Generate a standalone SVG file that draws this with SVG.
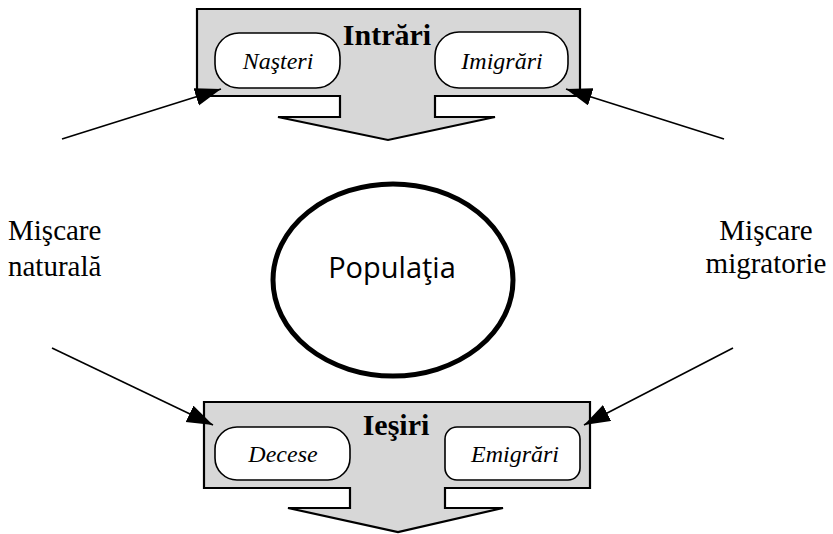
<svg xmlns="http://www.w3.org/2000/svg" width="833" height="534" viewBox="0 0 833 534">
<style>
.box{fill:#d7d7d7;stroke:#000;stroke-width:2.2;stroke-linejoin:miter}
.pill{fill:#fff;stroke:#000;stroke-width:1.6}
.title{font-family:"Liberation Serif",serif;font-weight:bold;font-size:30px;text-anchor:middle;fill:#000}
.item{font-family:"Liberation Serif",serif;font-style:italic;font-size:24px;text-anchor:middle;fill:#000}
.side{font-family:"Liberation Serif",serif;font-size:29px;fill:#000}
.conn{stroke:#000;stroke-width:1.6;fill:none;marker-end:url(#ah)}
</style>
<defs>
<marker id="ah" markerUnits="userSpaceOnUse" markerWidth="28" markerHeight="20" refX="26" refY="9" orient="auto">
<path d="M0,0 L26,9 L0,18 Z" fill="#000"/>
</marker>
</defs>
<rect width="833" height="534" fill="#fff"/>
<g id="intrari">
<polygon class="box" points="197,9 580,9 580,96 435,96 435,117 495,117 388,140 278,117 340,117 340,96 197,96"/>
<text class="title" x="387" y="45">Intrări</text>
</g>
<g id="nasteri">
<rect class="pill" x="215" y="33" width="125" height="55" rx="24"/>
<text class="item" x="278" y="69">Naşteri</text>
</g>
<g id="imigrari">
<rect class="pill" x="435" y="32" width="133" height="56" rx="24"/>
<text class="item" x="502" y="69">Imigrări</text>
</g>
<g id="iesiri">
<polygon class="box" points="204,402 590,402 590,488 445,488 445,508 503,508 398,532 288,508 350,508 350,488 204,488"/>
<text class="title" x="396" y="435">Ieşiri</text>
</g>
<g id="decese">
<rect class="pill" x="215" y="427" width="135" height="53" rx="22"/>
<text class="item" x="283" y="462">Decese</text>
</g>
<g id="emigrari">
<rect class="pill" x="445" y="427" width="135" height="53" rx="12"/>
<text class="item" x="515" y="462">Emigrări</text>
</g>
<g id="populatia">
<ellipse cx="393" cy="280" rx="120" ry="96" fill="#fff" stroke="#000" stroke-width="5"/>
<text x="392" y="278" font-family="'Open Sans',sans-serif" font-size="29" text-anchor="middle" fill="#000">Populaţia</text>
</g>
<g id="miscare-naturala">
<text class="side" x="8" y="240">Mişcare</text>
<text class="side" x="8" y="276">naturală</text>
</g>
<g id="miscare-migratorie">
<text class="side" x="766" y="240" text-anchor="middle">Mişcare</text>
<text class="side" x="766" y="273" text-anchor="middle">migratorie</text>
</g>
<g id="connectors">
<line class="conn" x1="62" y1="139" x2="221" y2="89"/>
<line class="conn" x1="724" y1="139" x2="566" y2="89"/>
<line class="conn" x1="52" y1="348" x2="213" y2="425"/>
<line class="conn" x1="733" y1="348" x2="584" y2="425"/>
</g>
</svg>
